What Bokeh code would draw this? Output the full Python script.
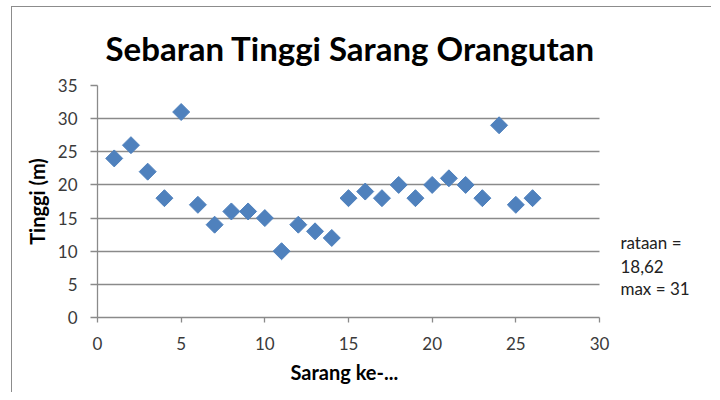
import numpy as np
from bokeh.plotting import figure
from bokeh.models import Range1d, FixedTicker, Title
from bokeh.core.properties import value
from bokeh.embed import file_html
from bokeh.resources import INLINE

sarang = list(range(1, 27))
tinggi = [24, 26, 22, 18, 31, 17, 14, 16, 16, 15, 10, 14, 13, 12, 18, 19, 18, 20, 18, 20, 21, 20, 18, 29, 17, 18]
title_text = "Sebaran Tinggi Sarang Orangutan"
x_label = "Sarang ke-..."
y_label = "Tinggi (m)"
note_lines = ["rataan =", "18,62", "max = 31"]
x_ticks = [0, 5, 10, 15, 20, 25, 30]
y_ticks = [0, 5, 10, 15, 20, 25, 30, 35]

FONT = "Lato"

W, H = 700, 386
LEFT, RIGHT, TOP, BOTTOM = 85, 13, 78, 76
x_max, y_max = 30, 35
# extend the x range beyond 30 so the note can sit at the right of the axis
x_end = x_max * (W - LEFT - RIGHT) / 502

p = figure(width=W, height=H, output_backend="svg", toolbar_location=None,
           x_range=Range1d(0, x_end), y_range=Range1d(0, y_max),
           min_border_left=LEFT, min_border_right=RIGHT, min_border_top=TOP, min_border_bottom=BOTTOM)
p.styles = {"border-left": "1px solid #8c8c8c", "border-top": "1px solid #8c8c8c",
            "margin-left": "11px", "margin-top": "6px"}
p.outline_line_color = None
p.background_fill_color = "white"
p.border_fill_color = "white"

p.xgrid.grid_line_color = None
grid = p.ygrid[0]
if "cross_bounds" in grid.properties():
    grid.cross_bounds = (0, x_max)
    grid.grid_line_color = "#8a8a8a"
    grid.grid_line_width = 1.3
else:
    grid.grid_line_color = None
    p.segment(x0=[0] * len(y_ticks), x1=[x_max] * len(y_ticks), y0=y_ticks, y1=y_ticks,
              line_color="#8a8a8a", line_width=1.3)

p.scatter(sarang, tinggi, marker="square", angle=np.pi / 4, size=12,
          fill_color="#4F81BD", line_color="#4F81BD")

for ax in (p.xaxis[0], p.yaxis[0]):
    ax.axis_line_color = "#8a8a8a"
    ax.axis_line_width = 1.3
    ax.major_tick_line_color = "#8a8a8a"
    ax.major_tick_line_width = 1.3
    ax.major_tick_in = 0
    ax.minor_tick_line_color = None
    ax.major_label_text_font = FONT
    ax.major_label_text_font_size = "17px"
    ax.major_label_text_color = "#3a3a3a"
    ax.axis_label_text_font = FONT
    ax.axis_label_text_font_size = "20px"
    ax.axis_label_text_font_style = "bold"
    ax.axis_label_text_color = "#000000"

p.xaxis.major_tick_out = 5
p.yaxis.major_tick_out = 7
p.xaxis.major_label_standoff = 14
p.yaxis.major_label_standoff = 13

p.xaxis.bounds = (0, x_max)
p.xaxis.ticker = FixedTicker(ticks=x_ticks)
p.yaxis.ticker = FixedTicker(ticks=y_ticks)
p.yaxis.axis_label = y_label
p.yaxis.axis_label_standoff = 6

# x-axis title placed below the axis, centred under the 0..30 axis line
p.add_layout(Title(text=x_label, align="left", offset=193, standoff=10,
                   text_font=FONT, text_font_size="20px", text_font_style="bold",
                   text_color="#000000"), "below")

p.title.text = title_text
p.title.align = "left"
p.title.offset = 8
p.title.text_font = FONT
p.title.text_font_size = "33px"
p.title.text_font_style = "bold"
p.title.text_color = "#000000"
p.title.standoff = 35

p.text(x=[31.25] * len(note_lines), y=[11.3, 7.75, 4.3], text=note_lines,
       text_font=value(FONT), text_font_size="17px", text_color="#222222",
       text_align="left", text_baseline="middle")

open("out.html", "w").write(file_html(p, INLINE))
